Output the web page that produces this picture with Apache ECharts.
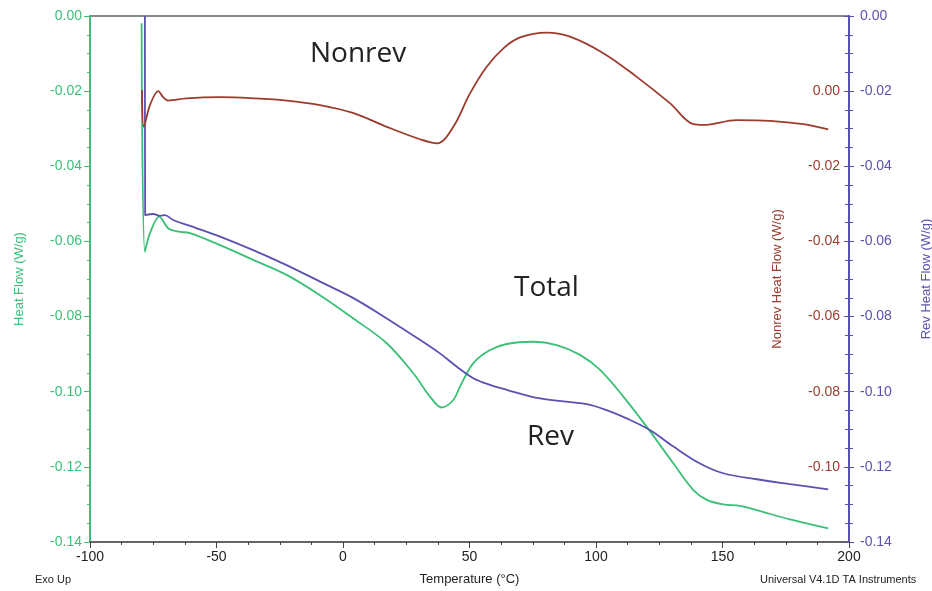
<html>
<head>
    <meta charset="utf-8">
    <title>Heat Flow</title>
    <script src="https://cdn.jsdelivr.net/npm/echarts@6.0.0/dist/echarts.min.js"></script>
    <style>
        html, body { margin: 0; padding: 0; background: #fff; }
        #chartmain { width: 932px; height: 591px; }
    </style>
</head>
<body>
    <div id="chartmain"></div>

    <script type="text/javascript">
        // Total heat flow (left axis)
        var tempTotal = [-79.6, -78.3, -76.3, -72.6, -69.1, -65.1, -60.5, -48.6, -35.5, -22.3, -9.1, 4.1, 17.3, 27.8, 34.4, 39.0, 43.6, 46.2, 51.5, 58.1, 64.7, 75.2, 84.5, 93.7, 101.6, 110.8, 120.0, 130.6, 138.5, 143.8, 150.3, 156.9, 163.5, 176.7, 191.8];
        var total = [-0.0019, -0.0627, -0.0578, -0.0534, -0.0565, -0.0574, -0.0578, -0.0610, -0.0649, -0.0689, -0.0743, -0.0805, -0.0871, -0.0951, -0.1013, -0.1042, -0.1022, -0.0987, -0.0924, -0.0889, -0.0873, -0.0867, -0.0876, -0.0902, -0.0942, -0.1013, -0.1093, -0.1191, -0.1262, -0.1288, -0.1300, -0.1304, -0.1315, -0.1340, -0.1364];

        // Rev heat flow (right outer axis)
        var tempRev = [-78.3, -78.2, -75.0, -72.3, -70.4, -67.1, -57.8, -48.6, -35.5, -22.3, -9.1, 4.1, 17.3, 30.4, 38.3, 44.9, 51.5, 58.1, 64.7, 77.9, 96.3, 104.2, 112.1, 121.3, 130.6, 141.1, 150.3, 163.5, 176.7, 191.8];
        var rev = [0.0000, -0.0530, -0.0527, -0.0532, -0.0530, -0.0543, -0.0565, -0.0587, -0.0623, -0.0663, -0.0707, -0.0751, -0.0805, -0.0862, -0.0898, -0.0933, -0.0964, -0.0982, -0.0995, -0.1018, -0.1033, -0.1049, -0.1071, -0.1102, -0.1146, -0.1191, -0.1217, -0.1233, -0.1246, -0.1260];

        // Nonrev heat flow (right inner axis)
        var tempNonrev = [-79.4, -78.7, -76.3, -73.0, -71.1, -69.1, -61.8, -48.6, -35.6, -22.3, -9.1, 3.9, 17.3, 30.4, 37.2, 43.6, 50.2, 56.8, 63.4, 70.0, 80.5, 89.7, 102.9, 116.1, 129.2, 138.5, 142.4, 155.6, 168.8, 181.9, 191.8];
        var nonrev = [0.0003, -0.0095, -0.0037, 0.0000, -0.0016, -0.0025, -0.0019, -0.0016, -0.0019, -0.0025, -0.0037, -0.0058, -0.0095, -0.0128, -0.0139, -0.0095, -0.0006, 0.0065, 0.0114, 0.0143, 0.0156, 0.0145, 0.0101, 0.0038, -0.0032, -0.0088, -0.0090, -0.0077, -0.0079, -0.0088, -0.0102];

        var green = '#3cbf78';
        var blue = '#5a52b0';
        var brown = '#9c3b2d';
        var labelFont = 'Liberation Sans';

        function pairs(xs, ys) {
            return xs.map(function (x, i) { return [x, ys[i]]; });
        }
        function fmt(v) {
            var s = v.toFixed(2);
            return s === '-0.00' ? '0.00' : s;
        }

        var myChart = echarts.init(document.getElementById('chartmain'));
        myChart.setOption({
            animation: false,
            grid: {
                left: 90, right: 83, top: 16, bottom: 49,
                outerBoundsMode: 'none',
                show: true, borderColor: '#888', borderWidth: 2
            },
            xAxis: {
                type: 'value',
                min: -100, max: 200, interval: 50,
                name: 'Temperature (°C)',
                nameLocation: 'middle',
                nameGap: 31,
                nameTextStyle: { color: '#222', fontSize: 13, fontFamily: labelFont },
                axisLine: { onZero: false, lineStyle: { color: '#666', width: 2 } },
                axisTick: { length: 6, lineStyle: { color: '#444' } },
                minorTick: { show: true, splitNumber: 4, length: 3, lineStyle: { color: '#444' } },
                axisLabel: { color: '#222', fontSize: 14, fontFamily: labelFont, margin: 8 },
                splitLine: { show: false }
            },
            yAxis: [
                {
                    type: 'value', position: 'left',
                    min: -0.14, max: 0, interval: 0.02,
                    name: 'Heat Flow (W/g)',
                    nameLocation: 'middle', nameRotate: 90, nameGap: 64,
                    nameTextStyle: { color: green, fontSize: 13, fontFamily: labelFont },
                    axisLine: { show: true, onZero: false, lineStyle: { color: green, width: 2 } },
                    axisTick: { show: true, length: 6, lineStyle: { color: green } },
                    minorTick: { show: true, splitNumber: 4, length: 3, lineStyle: { color: green } },
                    axisLabel: { color: green, fontSize: 14, fontFamily: labelFont, margin: 8, formatter: fmt },
                    splitLine: { show: false }
                },
                {
                    type: 'value', position: 'right',
                    min: -0.14, max: 0, interval: 0.02,
                    name: 'Rev Heat Flow (W/g)',
                    nameLocation: 'middle', nameRotate: 90, nameGap: 71,
                    nameTextStyle: { color: blue, fontSize: 13, fontFamily: labelFont },
                    axisLine: { show: true, onZero: false, lineStyle: { color: blue, width: 2 } },
                    axisTick: { show: true, length: 5, lineStyle: { color: blue } },
                    minorTick: { show: true, splitNumber: 4, length: 4, lineStyle: { color: blue } },
                    axisLabel: { color: blue, fontSize: 14, fontFamily: labelFont, margin: 11, formatter: fmt },
                    splitLine: { show: false }
                },
                {
                    type: 'value', position: 'right', offset: 0,
                    min: -0.12, max: 0.02, interval: 0.02,
                    name: 'Nonrev Heat Flow (W/g)',
                    nameLocation: 'middle', nameRotate: 90, nameGap: -78,
                    nameTextStyle: { color: brown, fontSize: 13, fontFamily: labelFont },
                    axisLine: { show: false, onZero: false },
                    axisTick: { show: true, inside: true, length: 5, lineStyle: { color: blue } },
                    minorTick: { show: true, splitNumber: 4, length: 4, lineStyle: { color: blue } },
                    axisLabel: {
                        inside: true, color: brown, fontSize: 14, fontFamily: labelFont, margin: 9,
                        formatter: function (v) {
                            var s = fmt(v);
                            return (s === '0.02' || s === '-0.12') ? '' : s;
                        }
                    },
                    splitLine: { show: false }
                }
            ],
            series: [
                {
                    name: 'Total', type: 'line', yAxisIndex: 0,
                    data: pairs(tempTotal, total),
                    showSymbol: false, smooth: 0.35,
                    lineStyle: { color: green, width: 1.8 }
                },
                {
                    name: 'Rev', type: 'line', yAxisIndex: 1,
                    data: pairs(tempRev, rev),
                    showSymbol: false, smooth: 0.35,
                    lineStyle: { color: blue, width: 1.8 }
                },
                {
                    name: 'Nonrev', type: 'line', yAxisIndex: 2,
                    data: pairs(tempNonrev, nonrev),
                    showSymbol: false, smooth: 0.35,
                    lineStyle: { color: brown, width: 1.8 }
                }
            ],
            graphic: [
                { type: 'text', left: 310, top: 40, style: { text: 'Nonrev', fill: '#222', font: '28px "Open Sans"' } },
                { type: 'text', left: 514, top: 274, style: { text: 'Total', fill: '#222', font: '28px "Open Sans"' } },
                { type: 'text', left: 527, top: 423, style: { text: 'Rev', fill: '#222', font: '28px "Open Sans"' } },
                { type: 'text', left: 35, top: 574, style: { text: 'Exo Up', fill: '#222', font: '11px "Liberation Sans"' } },
                { type: 'text', left: 760, top: 574, style: { text: 'Universal V4.1D TA Instruments', fill: '#222', font: '11px "Liberation Sans"' } }
            ]
        });
    </script>
</body>
</html>
